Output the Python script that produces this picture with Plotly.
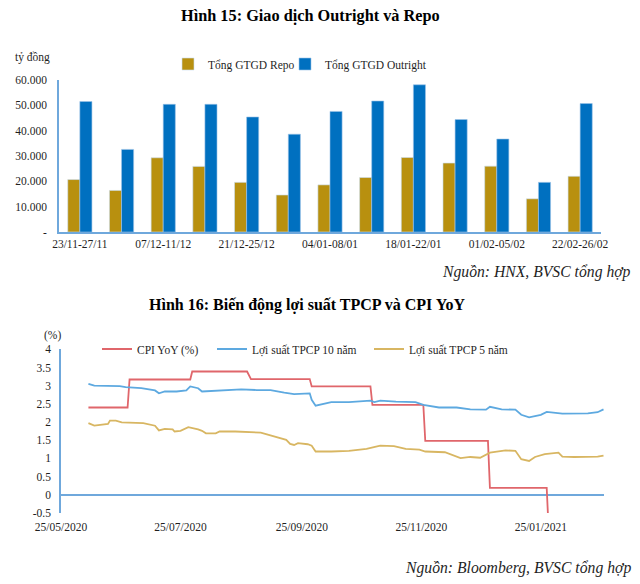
import plotly.graph_objects as go

W, H = 640, 584

# ---------------- Data: Hình 15 ----------------
weeks = ["23/11-27/11", "30/11-04/12", "07/12-11/12", "14/12-18/12", "21/12-25/12",
         "28/12-01/01", "04/01-08/01", "11/01-15/01", "18/01-22/01", "25/01-29/01",
         "01/02-05/02", "15/02-19/02", "22/02-26/02"]
repo = [20700, 16400, 29300, 25900, 19600, 14600, 18600, 21500, 29400, 27200, 26000, 13100, 22000]
outright = [51500, 32600, 50400, 50400, 45400, 38600, 47600, 51700, 58100, 44400, 36700, 19600, 50700]
bar_yticks = [0, 10000, 20000, 30000, 40000, 50000, 60000]
bar_yticktext = ["-", "10.000", "20.000", "30.000", "40.000", "50.000", "60.000"]

# ---------------- Data: Hình 16 ----------------
cpi_dates = ["2020-06-08", "2020-06-28", "2020-06-29", "2020-07-30", "2020-07-31", "2020-08-28",
             "2020-08-30", "2020-09-29", "2020-09-30", "2020-10-30", "2020-10-31", "2020-11-26",
             "2020-11-27", "2020-12-29", "2020-12-30", "2021-01-28", "2021-01-29", "2021-02-26"]
cpi_vals = [2.40, 2.40, 3.17, 3.17, 3.39, 3.39, 3.18, 3.18, 2.98, 2.98, 2.47, 2.47,
            1.48, 1.48, 0.19, 0.19, -0.97, -0.97]

y10_dates = ["2020-06-08", "2020-06-11", "2020-06-24", "2020-06-27", "2020-07-05", "2020-07-12",
             "2020-07-14", "2020-07-17", "2020-07-23", "2020-07-28", "2020-07-30", "2020-08-03",
             "2020-08-05", "2020-08-11", "2020-08-25", "2020-09-02", "2020-09-09", "2020-09-16",
             "2020-09-21", "2020-09-29", "2020-09-30", "2020-10-02", "2020-10-05", "2020-10-10",
             "2020-10-19", "2020-10-30", "2020-11-01", "2020-11-04", "2020-11-12", "2020-11-22",
             "2020-11-26", "2020-12-04", "2020-12-13", "2020-12-20", "2020-12-28", "2020-12-30",
             "2021-01-05", "2021-01-12", "2021-01-15", "2021-01-19", "2021-01-25", "2021-01-28",
             "2021-02-05", "2021-02-18", "2021-02-23", "2021-02-26"]
y10_vals = [3.05, 3.00, 2.99, 2.96, 2.93, 2.87, 2.79, 2.84, 2.84, 2.87, 2.98, 2.93,
            2.84, 2.86, 2.90, 2.88, 2.88, 2.81, 2.77, 2.79, 2.61, 2.45, 2.49, 2.55,
            2.55, 2.59, 2.55, 2.59, 2.56, 2.55, 2.47, 2.40, 2.40, 2.35, 2.34, 2.42,
            2.35, 2.34, 2.20, 2.13, 2.20, 2.28, 2.23, 2.24, 2.27, 2.35]

y5_dates = ["2020-06-08", "2020-06-11", "2020-06-18", "2020-06-19", "2020-06-22", "2020-06-25",
            "2020-07-06", "2020-07-12", "2020-07-14", "2020-07-17", "2020-07-21", "2020-07-22",
            "2020-07-25", "2020-07-29", "2020-08-03", "2020-08-05", "2020-08-07", "2020-08-12",
            "2020-08-14", "2020-08-22", "2020-09-04", "2020-09-09", "2020-09-14", "2020-09-17",
            "2020-09-19", "2020-09-21", "2020-09-23", "2020-09-28", "2020-09-30", "2020-10-02",
            "2020-10-10", "2020-10-19", "2020-10-28", "2020-11-04", "2020-11-11", "2020-11-17",
            "2020-11-24", "2020-11-27", "2020-12-07", "2020-12-11", "2020-12-15", "2020-12-20",
            "2020-12-25", "2020-12-30", "2021-01-07", "2021-01-12", "2021-01-15", "2021-01-19",
            "2021-01-22", "2021-01-27", "2021-02-03", "2021-02-05", "2021-02-11", "2021-02-23",
            "2021-02-26"]
y5_vals = [1.97, 1.90, 1.95, 2.04, 2.04, 1.99, 1.97, 1.90, 1.77, 1.81, 1.80, 1.74,
           1.76, 1.86, 1.80, 1.76, 1.69, 1.69, 1.74, 1.74, 1.71, 1.63, 1.54, 1.51,
           1.40, 1.37, 1.42, 1.39, 1.35, 1.19, 1.19, 1.21, 1.26, 1.35, 1.34, 1.26,
           1.24, 1.19, 1.17, 1.10, 1.01, 1.04, 1.02, 1.16, 1.22, 1.21, 0.98, 0.93,
           1.04, 1.12, 1.16, 1.05, 1.04, 1.05, 1.08]

date_ticks = ["2020-05-25", "2020-07-25", "2020-09-25", "2020-11-25", "2021-01-25"]
line_yticks = [-0.5, 0, 0.5, 1, 1.5, 2, 2.5, 3, 3.5, 4]
line_yticktext = ["-0.5", "0", "0.5", "1", "1.5", "2", "2.5", "3", "3.5", "4"]

# ---------------- helpers ----------------
def px(x):
    return x / W

def py(y):
    return 1 - y / H

FONT = "Liberation Serif"
TXT = "#1f1f1f"
AXIS_BLUE = "#6FA8DC"
GOLD = "#B8900F"
BLUE = "#0070C0"

fig = go.Figure()

fig.add_trace(go.Bar(x=weeks, y=repo, name="Tổng GTGD Repo", marker=dict(color=GOLD, line=dict(color="#C9DDF0", width=0.6)),
                     xaxis="x", yaxis="y", legend="legend"))
fig.add_trace(go.Bar(x=weeks, y=outright, name="Tổng GTGD Outright", marker=dict(color=BLUE, line=dict(color="#9CC3E8", width=0.6)),
                     xaxis="x", yaxis="y", legend="legend2"))

fig.add_trace(go.Scatter(x=cpi_dates, y=cpi_vals, mode="lines", name="CPI YoY (%)",
                         line=dict(color="#E0666B", width=1.8), xaxis="x2", yaxis="y2", legend="legend3"))
fig.add_trace(go.Scatter(x=y10_dates, y=y10_vals, mode="lines", name="Lợi suất TPCP 10 năm",
                         line=dict(color="#5DA9E0", width=1.8), xaxis="x2", yaxis="y2", legend="legend4"))
fig.add_trace(go.Scatter(x=y5_dates, y=y5_vals, mode="lines", name="Lợi suất TPCP 5 năm",
                         line=dict(color="#D8B662", width=1.8), xaxis="x2", yaxis="y2", legend="legend5"))

leg_common = dict(orientation="h", bgcolor="rgba(0,0,0,0)", font=dict(family=FONT, size=11.5, color=TXT),
                  xanchor="left", yanchor="middle", itemwidth=30)

fig.update_layout(
    template="none",
    width=W, height=H, autosize=False,
    margin=dict(l=0, r=0, t=0, b=0, pad=0, autoexpand=False),
    paper_bgcolor="white", plot_bgcolor="white",
    font=dict(family=FONT, size=11.5, color=TXT),
    barmode="group", bargap=0.42, bargroupgap=0,
    showlegend=True,
    xaxis=dict(domain=[px(59), px(601)], anchor="y", type="category", automargin=False,
               tickvals=weeks[::2], showline=True, linecolor=AXIS_BLUE, linewidth=1.5,
               ticks="", showgrid=False, tickfont=dict(family=FONT, size=11.5, color=TXT)),
    yaxis=dict(domain=[py(232), py(80)], anchor="x", range=[0, 60000], automargin=False,
               tickvals=bar_yticks, ticktext=bar_yticktext, showline=True, linecolor=AXIS_BLUE,
               linewidth=1.5, showgrid=False, zeroline=False, ticks="", ticklabelstandoff=8,
               tickfont=dict(family=FONT, size=11.5, color=TXT)),
    xaxis2=dict(domain=[px(61), px(604)], anchor="y2", type="date", automargin=False,
                range=["2020-05-25", "2021-02-26 06:00"], tickvals=date_ticks, tickformat="%d/%m/%Y",
                showline=False, showgrid=False, zeroline=False, ticks="", ticklabelstandoff=5,
                tickfont=dict(family=FONT, size=11.5, color=TXT)),
    yaxis2=dict(domain=[py(513), py(349.3)], anchor="x2", range=[-0.5, 4], automargin=False,
                tickvals=line_yticks, ticktext=line_yticktext, showline=True, linecolor=AXIS_BLUE,
                linewidth=1.5, showgrid=False, zeroline=True, zerolinecolor=AXIS_BLUE, zerolinewidth=1.5,
                ticks="", ticklabelstandoff=6, tickfont=dict(family=FONT, size=11.5, color=TXT)),
    legend=dict(leg_common, x=px(168), y=py(64)),
    legend2=dict(leg_common, x=px(285), y=py(64)),
    legend3=dict(leg_common, x=px(97), y=py(349)),
    legend4=dict(leg_common, x=px(212), y=py(349)),
    legend5=dict(leg_common, x=px(369), y=py(349)),
)

annotations = [
    dict(text="<b>Hình 15: Giao dịch Outright và Repo</b>", x=px(310), y=py(15), font=dict(size=16.3, color="#000")),
    dict(text="tỷ đồng", x=px(13), y=py(57), xanchor="left", font=dict(size=11.5)),
    dict(text="<i>Nguồn: HNX, BVSC tổng hợp</i>", x=px(633), y=py(272), xanchor="right", font=dict(size=15.7)),
    dict(text="<b>Hình 16: Biến động lợi suất TPCP và CPI YoY</b>", x=px(307), y=py(305), font=dict(size=16, color="#000")),
    dict(text="(%)", x=px(52), y=py(335), font=dict(size=11.5)),
    dict(text="<i>Nguồn: Bloomberg, BVSC tổng hợp</i>", x=px(633), y=py(568), xanchor="right", font=dict(size=15.7)),
]
for a in annotations:
    a.setdefault("xanchor", "center")
    a.update(xref="paper", yref="paper", yanchor="middle", showarrow=False)
    a["font"] = dict(dict(family=FONT, color=TXT), **a["font"])
fig.update_layout(annotations=annotations)

fig.write_html("out.html", config={"displayModeBar": False},
               post_script="document.body.style.margin='0px';")
